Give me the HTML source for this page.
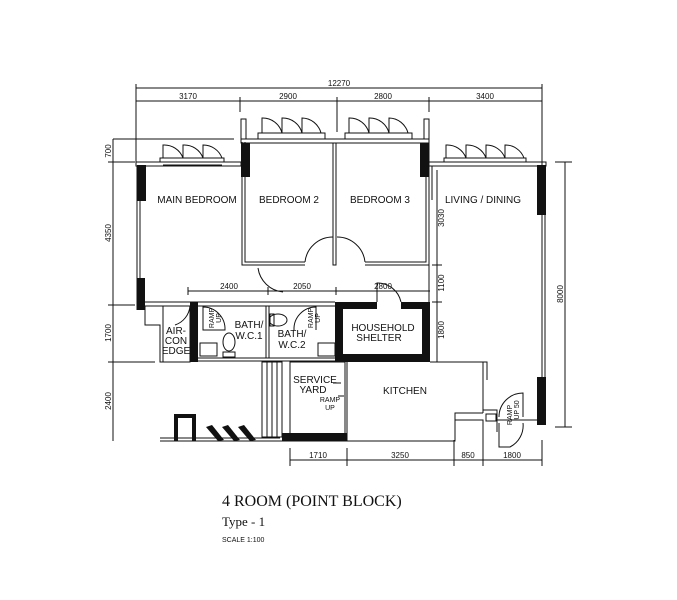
<!DOCTYPE html>
<html><head><meta charset="utf-8"><style>
html,body{margin:0;padding:0;background:#fff;}
svg{display:block;}
text{font-family:"Liberation Sans",sans-serif;fill:#111;}
.d{font-size:8px;}
.r{font-size:10px;}
</style></head><body>
<svg width="677" height="600" viewBox="0 0 677 600" xmlns="http://www.w3.org/2000/svg">
<g stroke="#111" stroke-width="1" fill="none">
<line x1="136" y1="88" x2="542" y2="88"/>
<line x1="136" y1="101" x2="542" y2="101"/>
<line x1="136" y1="84" x2="136" y2="165"/>
<line x1="542" y1="84" x2="542" y2="165"/>
<line x1="240" y1="97" x2="240" y2="112"/>
<line x1="337" y1="97" x2="337" y2="132"/>
<line x1="429" y1="97" x2="429" y2="112"/>
<line x1="113" y1="165" x2="113" y2="441"/>
<line x1="113" y1="139" x2="113" y2="165"/>
<line x1="113" y1="139" x2="234" y2="139"/>
<line x1="108" y1="162" x2="135" y2="162"/>
<line x1="108" y1="305" x2="135" y2="305"/>
<line x1="108" y1="362" x2="155" y2="362"/>
<line x1="565" y1="162" x2="565" y2="427"/>
<line x1="555" y1="162" x2="572" y2="162"/>
<line x1="555" y1="427" x2="572" y2="427"/>
<line x1="437" y1="170" x2="437" y2="362"/>
<line x1="432" y1="265" x2="442" y2="265"/>
<line x1="432" y1="302" x2="442" y2="302"/>
<line x1="188" y1="291" x2="430" y2="291"/>
<line x1="188" y1="287" x2="188" y2="295"/>
<line x1="268" y1="287" x2="268" y2="295"/>
<line x1="336" y1="287" x2="336" y2="295"/>
<line x1="290" y1="460" x2="542" y2="460"/>
<line x1="290" y1="448" x2="290" y2="466"/>
<line x1="347" y1="448" x2="347" y2="466"/>
<line x1="454" y1="440" x2="454" y2="466"/>
<line x1="483" y1="440" x2="483" y2="466"/>
<line x1="542" y1="440" x2="542" y2="466"/>

<rect x="136" y="162" width="105" height="4"/>
<rect x="241" y="139" width="188" height="4"/>
<rect x="429" y="162" width="117" height="4"/>
<rect x="160" y="158" width="64" height="4"/><line x1="163" y1="165" x2="222" y2="165"/>
<path d="M163 158 V145 A20 20 0 0 1 183 158 M183 158 V145 A20 20 0 0 1 203 158 M203 158 V145 A20 20 0 0 1 222 158"/>
<rect x="258" y="133" width="67" height="6"/>
<path d="M262 133 V118 A20 20 0 0 1 282 133 M282 133 V118 A20 20 0 0 1 302 133 M302 133 V118 A20 20 0 0 1 321 133"/>
<rect x="345" y="133" width="67" height="6"/>
<path d="M349 133 V118 A20 20 0 0 1 369 133 M369 133 V118 A20 20 0 0 1 389 133 M389 133 V118 A20 20 0 0 1 408 133"/>
<rect x="444" y="158" width="82" height="4"/>
<path d="M446 158 V145 A20 20 0 0 1 466 158 M466 158 V145 A20 20 0 0 1 486 158 M486 158 V145 A20 20 0 0 1 505 158 M505 158 V145 A20 20 0 0 1 524 158"/>
<rect x="241" y="119" width="5" height="20"/><rect x="424" y="119" width="5" height="20"/>
<line x1="137" y1="166" x2="137" y2="310"/><line x1="140" y1="200" x2="140" y2="278"/>
<path d="M242 142 V265 H305 M245 142 V262 H305"/>
<path d="M333 143 V265 H336 V143"/>
<path d="M365 262 H426 V143 M365 265 H429 V143"/>
<path d="M305 262 A28 28 0 0 1 333 237 M365 262 A28 28 0 0 0 337 237"/>
<path d="M258 268 A28 28 0 0 0 283 292"/>
<line x1="542" y1="215" x2="542" y2="377"/><line x1="545" y1="215" x2="545" y2="377"/>
<line x1="429" y1="166" x2="429" y2="302"/><line x1="432" y1="166" x2="432" y2="200"/>
<line x1="145" y1="302" x2="335" y2="302"/><line x1="145" y1="306" x2="335" y2="306"/>
<path d="M145 306 V325 H160 V362 H190"/>
<rect x="163" y="306" width="27" height="56"/>
<path d="M175 325 A22 22 0 0 0 190 306"/>
<line x1="198" y1="361" x2="335" y2="361"/><line x1="198" y1="358" x2="335" y2="358"/>
<line x1="266" y1="306" x2="266" y2="358"/><line x1="269" y1="306" x2="269" y2="358"/>
<path d="M203 330 V307 A22 22 0 0 1 225 330 Z"/>
<path d="M316 330 V307 A22 22 0 0 0 294 330"/>
<rect x="200" y="343" width="17" height="13"/><rect x="318" y="343" width="17" height="13"/>
<ellipse cx="229" cy="342" rx="6" ry="9"/><rect x="223" y="352" width="12" height="5"/>
<ellipse cx="278" cy="320" rx="9" ry="6"/><rect x="270" y="314" width="4" height="12"/>
<path d="M377 302 V283 A24 24 0 0 1 401 302"/>
<path d="M160 441 H455 V413 H483"/>
<path d="M430 362 H487 V380 M483 362 V413 M455 420 H483 V441"/>
<path d="M483 410 H497 V432"/>
<line x1="160" y1="438" x2="280" y2="438"/>
<rect x="262" y="362" width="20" height="75"/>
<line x1="267" y1="362" x2="267" y2="437"/><line x1="272" y1="362" x2="272" y2="437"/><line x1="277" y1="362" x2="277" y2="437"/>
<rect x="290" y="362" width="55" height="73"/>
<line x1="345" y1="362" x2="345" y2="435"/><line x1="347" y1="362" x2="347" y2="441"/>
<path d="M341 383 H333 M344 396 H338"/>
<rect x="486" y="414" width="10" height="7"/>
<path d="M499 417 A24 24 0 0 1 523 393 V417 M499 423 V447 H510 A24 24 0 0 0 523 423"/>
<line x1="497" y1="420" x2="537" y2="420"/>
</g>
<g fill="#111">
<rect x="137" y="165" width="9" height="36"/>
<rect x="241" y="143" width="9" height="34"/>
<rect x="420" y="143" width="9" height="34"/>
<rect x="537" y="165" width="9" height="50"/>
<rect x="137" y="278" width="8" height="32"/>
<rect x="190" y="302" width="8" height="60"/>
<rect x="537" y="377" width="9" height="48"/>
<rect x="335" y="302" width="95" height="60"/>
<rect x="282" y="433" width="65" height="8"/>
<rect x="174" y="416" width="4" height="25"/><rect x="192" y="416" width="4" height="25"/><rect x="174" y="414" width="22" height="4"/>
<polygon points="206,427 212,425 224,440 218,441"/>
<polygon points="222,427 228,425 240,440 234,441"/>
<polygon points="238,427 244,425 256,440 250,441"/>
</g>
<rect x="343" y="309" width="79" height="45" fill="#fff"/>
<rect x="377" y="302" width="24" height="8" fill="#fff"/>
<g class="d">
<text x="339" y="86" text-anchor="middle">12270</text>
<text x="188" y="99" text-anchor="middle">3170</text>
<text x="288" y="99" text-anchor="middle">2900</text>
<text x="383" y="99" text-anchor="middle">2800</text>
<text x="485" y="99" text-anchor="middle">3400</text>
<text x="229" y="289" text-anchor="middle">2400</text>
<text x="302" y="289" text-anchor="middle">2050</text>
<text x="383" y="289" text-anchor="middle">2800</text>
<text x="318" y="458" text-anchor="middle">1710</text>
<text x="400" y="458" text-anchor="middle">3250</text>
<text x="468" y="458" text-anchor="middle">850</text>
<text x="512" y="458" text-anchor="middle">1800</text>
<text transform="translate(111,151) rotate(-90)" text-anchor="middle">700</text>
<text transform="translate(111,233) rotate(-90)" text-anchor="middle">4350</text>
<text transform="translate(111,333) rotate(-90)" text-anchor="middle">1700</text>
<text transform="translate(111,401) rotate(-90)" text-anchor="middle">2400</text>
<text transform="translate(563,294) rotate(-90)" text-anchor="middle">8000</text>
<text transform="translate(444,218) rotate(-90)" text-anchor="middle">3030</text>
<text transform="translate(444,283) rotate(-90)" text-anchor="middle">1100</text>
<text transform="translate(444,330) rotate(-90)" text-anchor="middle">1800</text>
<text transform="translate(214,318) rotate(-90)" text-anchor="middle" style="font-size:7px">RAMP</text>
<text transform="translate(221,318) rotate(-90)" text-anchor="middle" style="font-size:7px">UP</text>
<text transform="translate(313,318) rotate(-90)" text-anchor="middle" style="font-size:7px">RAMP</text>
<text transform="translate(320,318) rotate(-90)" text-anchor="middle" style="font-size:7px">UP</text>
<text transform="translate(512,415) rotate(-90)" text-anchor="middle" style="font-size:7px">RAMP</text>
<text transform="translate(519,410) rotate(-90)" text-anchor="middle" style="font-size:7px">UP 50</text>
<text x="330" y="402" text-anchor="middle" style="font-size:7px">RAMP</text>
<text x="330" y="410" text-anchor="middle" style="font-size:7px">UP</text>
</g>
<g class="r">
<text x="197" y="203" text-anchor="middle">MAIN BEDROOM</text>
<text x="289" y="203" text-anchor="middle">BEDROOM 2</text>
<text x="380" y="203" text-anchor="middle">BEDROOM 3</text>
<text x="483" y="203" text-anchor="middle">LIVING / DINING</text>
<text x="176" y="334" text-anchor="middle">AIR-</text>
<text x="176" y="344" text-anchor="middle">CON</text>
<text x="176" y="354" text-anchor="middle">EDGE</text>
<text x="249" y="328" text-anchor="middle">BATH/</text>
<text x="249" y="339" text-anchor="middle">W.C.1</text>
<text x="292" y="337" text-anchor="middle">BATH/</text>
<text x="292" y="348" text-anchor="middle">W.C.2</text>
<text x="383" y="331" text-anchor="middle">HOUSEHOLD</text>
<text x="379" y="341" text-anchor="middle">SHELTER</text>
<text x="315" y="383" text-anchor="middle">SERVICE</text>
<text x="313" y="393" text-anchor="middle">YARD</text>
<text x="405" y="394" text-anchor="middle">KITCHEN</text>
</g>
<text x="222" y="506" style="font-family:'Liberation Serif',serif;font-size:16px">4 ROOM (POINT BLOCK)</text>
<text x="222" y="526" style="font-family:'Liberation Serif',serif;font-size:13px">Type - 1</text>
<text x="222" y="542" style="font-size:7px">SCALE  1:100</text>
</svg>
</body></html>
